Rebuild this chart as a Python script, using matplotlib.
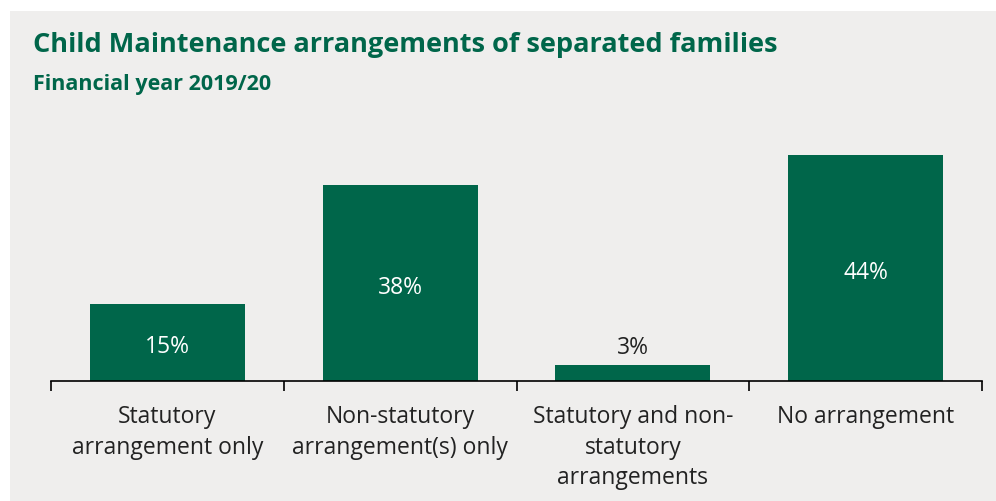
import matplotlib.pyplot as plt
from matplotlib.patches import Rectangle

# Data
categories = ['Statutory\narrangement only', 'Non-statutory\narrangement(s) only',
              'Statutory and non-\nstatutory\narrangements', 'No arrangement']
values = [15, 38, 3, 44]
value_labels = ['15%', '38%', '3%', '44%']

green = '#00664a'
text_col = '#222222'
plt.rcParams['font.family'] = ['Open Sans', 'DejaVu Sans']

fig = plt.figure(figsize=(9.96, 5.02), dpi=100)
fig.patch.set_facecolor('white')
# grey panel behind the chart
fig.patches.append(Rectangle((10 / 996, 0), 1, 1 - 12 / 502, transform=fig.transFigure,
                             facecolor='#efeeed', edgecolor='none', zorder=-10))

ax = fig.add_axes([51 / 996, (502 - 381.5) / 502, (982 - 51) / 996, (381.5 - 130) / 502])
ax.set_facecolor('none')

x = range(len(categories))
ax.bar(x, values, width=0.665, color=green, zorder=2)

for i, (v, lab) in enumerate(zip(values, value_labels)):
    if v > 10:
        ax.annotate(lab, (i, v / 2), xytext=(0, -3), textcoords='offset points',
                    ha='center', va='center', color='white', fontsize=16.5)
    else:
        ax.text(i, v + 1.2, lab, ha='center', va='bottom', color=text_col, fontsize=16.5)

ax.set_xlim(-0.5, len(categories) - 0.5)
ax.set_ylim(0, 49.0)
ax.set_yticks([])
ax.set_xticks(list(x))
ax.set_xticklabels(categories, fontsize=16.5, color=text_col, linespacing=1.36, va='top')
ax.set_xticks([i - 0.5 for i in range(len(categories) + 1)], minor=True)
ax.tick_params(axis='x', which='major', length=0, pad=17)
ax.tick_params(axis='x', which='minor', length=7, width=1.2, color='black', direction='out')

for s in ['top', 'right', 'left']:
    ax.spines[s].set_visible(False)
ax.spines['bottom'].set_linewidth(1.2)

fig.text(33 / 996, 1 - 45 / 502, 'Child Maintenance arrangements of separated families',
         fontsize=19.5, fontweight='bold', color=green, va='center', ha='left')
fig.text(33 / 996, 1 - 85 / 502, 'Financial year 2019/20',
         fontsize=15.5, fontweight='bold', color=green, va='center', ha='left')

fig.savefig('out.png', dpi=100)
